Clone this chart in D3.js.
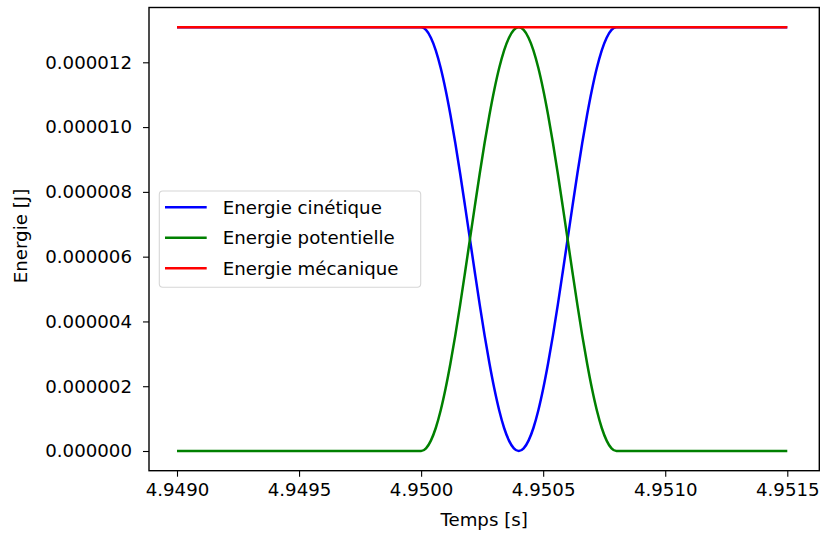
<!DOCTYPE html>
<html>
<head>
<meta charset="utf-8">
<script src="https://cdn.jsdelivr.net/npm/d3@7"></script>
<style>
  body { margin: 0; background: #fff; overflow: hidden; }
  text { font-family: "DejaVu Sans", sans-serif; fill: #000; }
</style>
</head>
<body>
<div id="chart-area"></div>
<script>
// time samples (s)
var times = [4.9490,
  4.95000, 4.95002, 4.95004, 4.95006, 4.95008, 4.95010, 4.95012, 4.95014, 4.95016, 4.95018,
  4.95020, 4.95022, 4.95024, 4.95026, 4.95028, 4.95030, 4.95032, 4.95034, 4.95036, 4.95038,
  4.95040, 4.95042, 4.95044, 4.95046, 4.95048, 4.95050, 4.95052, 4.95054, 4.95056, 4.95058,
  4.95060, 4.95062, 4.95064, 4.95066, 4.95068, 4.95070, 4.95072, 4.95074, 4.95076, 4.95078,
  4.95080, 4.9515];

// energies in microjoules
var kinetic = [13.08,
  13.08, 13.00, 12.76, 12.37, 11.83, 11.16, 10.38, 9.51, 8.56, 7.56,
  6.54, 5.52, 4.52, 3.57, 2.70, 1.92, 1.25, 0.71, 0.32, 0.08,
  0.00, 0.08, 0.32, 0.71, 1.25, 1.92, 2.70, 3.57, 4.52, 5.52,
  6.54, 7.56, 8.56, 9.51, 10.38, 11.16, 11.83, 12.37, 12.76, 13.00,
  13.08, 13.08];

var potential = [0,
  0.00, 0.08, 0.32, 0.71, 1.25, 1.92, 2.70, 3.57, 4.52, 5.52,
  6.54, 7.56, 8.56, 9.51, 10.38, 11.16, 11.83, 12.37, 12.76, 13.00,
  13.08, 13.00, 12.76, 12.37, 11.83, 11.16, 10.38, 9.51, 8.56, 7.56,
  6.54, 5.52, 4.52, 3.57, 2.70, 1.92, 1.25, 0.71, 0.32, 0.08,
  0.00, 0];

var mechTimes = [4.9490, 4.9515];
var mechanical = [13.08, 13.08];

var xTicks = [4.9490, 4.9495, 4.9500, 4.9505, 4.9510, 4.9515];
var yTicks = [0, 2, 4, 6, 8, 10, 12];

var labels = ["Energie cinétique", "Energie potentielle", "Energie mécanique"];
var colors = ["blue", "green", "red"];

var W = 821, H = 534;
var box = { left: 149, right: 819.3, top: 7.5, bottom: 470.7 };
var fs = 18.2;

var svg = d3.select("#chart-area").append("svg")
  .attr("width", W).attr("height", H);

var x = d3.scaleLinear()
  .domain([4.9488853, 4.9516311])
  .range([box.left, box.right]);

var y = d3.scaleLinear()
  .domain([-0.608, 13.692])
  .range([box.bottom, box.top]);

// lines
var line = d3.line()
  .x(function(d) { return x(d[0]); })
  .y(function(d) { return y(d[1]); })
  .curve(d3.curveMonotoneX);

var series = [
  d3.zip(times, kinetic),
  d3.zip(times, potential),
  d3.zip(mechTimes, mechanical)
];

var plot = svg.append("g");
series.forEach(function(s, i) {
  plot.append("path")
    .attr("d", line(s))
    .attr("fill", "none")
    .attr("stroke", colors[i])
    .attr("stroke-width", 2.5)
    .attr("stroke-linejoin", "round");
});

// X Axis
var xAxis = svg.append("g")
  .attr("transform", "translate(0," + box.bottom + ")")
  .call(d3.axisBottom(x).tickValues(xTicks).tickSizeOuter(0).tickSize(6).tickPadding(6)
    .tickFormat(function(d) { return d.toFixed(4); }));

// Y Axis
var yAxis = svg.append("g")
  .attr("transform", "translate(" + box.left + ",0)")
  .call(d3.axisLeft(y).tickValues(yTicks).tickSizeOuter(0).tickSize(6).tickPadding(11)
    .tickFormat(function(d) { return (d * 1e-6).toFixed(6); }));

[xAxis, yAxis].forEach(function(a) {
  a.select(".domain").remove();
  a.selectAll(".tick line").attr("stroke", "#000").attr("stroke-width", 1.1);
  a.selectAll(".tick text")
    .attr("font-size", fs + "px")
    .attr("font-family", "DejaVu Sans, sans-serif")
    .attr("fill", "#1a1a1a");
});

// frame
svg.append("rect")
  .attr("x", box.left).attr("y", box.top)
  .attr("width", box.right - box.left).attr("height", box.bottom - box.top)
  .attr("fill", "none").attr("stroke", "#000").attr("stroke-width", 1.4);

// X Label
svg.append("text")
  .attr("x", (box.left + box.right) / 2)
  .attr("y", 525.5)
  .attr("font-size", fs + "px")
  .attr("text-anchor", "middle")
  .text("Temps [s]");

// Y Label
svg.append("text")
  .attr("transform", "translate(26.5,236) rotate(-90)")
  .attr("font-size", fs + "px")
  .attr("text-anchor", "middle")
  .text("Energie [J]");

// Legend
var leg = svg.append("g");
leg.append("rect")
  .attr("x", 159.3).attr("y", 191)
  .attr("width", 261.4).attr("height", 96.3)
  .attr("rx", 3.5)
  .attr("fill", "#fff").attr("fill-opacity", 0.8)
  .attr("stroke", "#d6d6d6").attr("stroke-width", 1.1);

var rowY = [207.3, 237.8, 268.3];
labels.forEach(function(lab, i) {
  leg.append("line")
    .attr("x1", 165).attr("x2", 206.7)
    .attr("y1", rowY[i]).attr("y2", rowY[i])
    .attr("stroke", colors[i]).attr("stroke-width", 2.5);
  leg.append("text")
    .attr("x", 222.7).attr("y", rowY[i] + 6.3)
    .attr("font-size", fs + "px")
    .text(lab);
});
</script>
</body>
</html>
